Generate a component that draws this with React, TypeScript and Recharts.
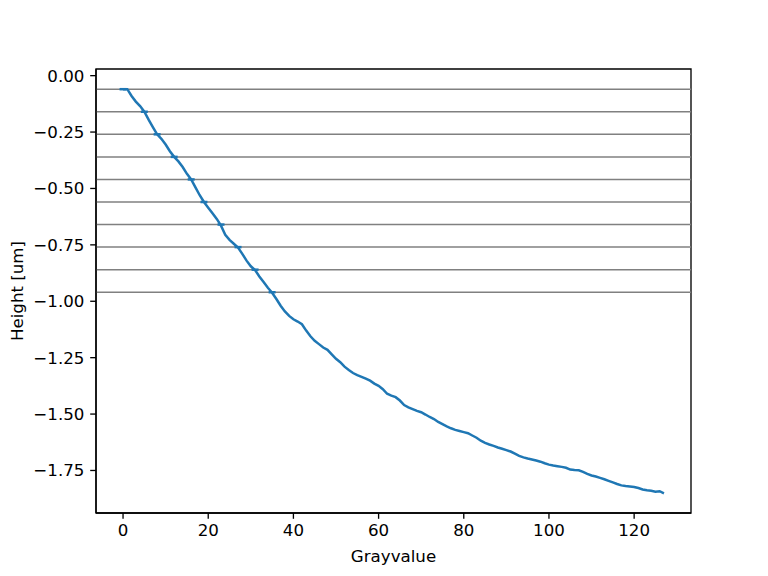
import React from 'react';
import {
  ComposedChart,
  Line,
  Scatter,
  XAxis,
  YAxis,
  ReferenceLine,
  ReferenceArea,
} from 'recharts';

// grayvalue samples 0..127
const GRAYVALUES = Array.from({ length: 128 }, (_, i) => i);

// height, one value per grayvalue
const HEIGHTS = [
  -0.06, -0.06, -0.09, -0.115, -0.135, -0.16, -0.195, -0.228, -0.26, -0.28,
  -0.305, -0.335, -0.36, -0.38, -0.405, -0.435, -0.46, -0.495, -0.53, -0.56,
  -0.585, -0.61, -0.635, -0.665, -0.705, -0.728, -0.745, -0.762, -0.79, -0.82,
  -0.845, -0.862, -0.89, -0.915, -0.94, -0.962, -0.99, -1.02, -1.045, -1.065,
  -1.08, -1.09, -1.102, -1.13, -1.155, -1.175, -1.19, -1.205, -1.215, -1.235,
  -1.255, -1.27, -1.29, -1.305, -1.318, -1.327, -1.335, -1.343, -1.352, -1.365,
  -1.375, -1.39, -1.41, -1.418, -1.425, -1.44, -1.46, -1.47, -1.478, -1.486,
  -1.492, -1.502, -1.513, -1.522, -1.535, -1.545, -1.555, -1.563, -1.57, -1.575,
  -1.58, -1.585, -1.595, -1.605, -1.618, -1.628, -1.635, -1.641, -1.648, -1.654,
  -1.66, -1.666, -1.675, -1.685, -1.692, -1.697, -1.701, -1.706, -1.711, -1.718,
  -1.724, -1.728, -1.731, -1.734, -1.738, -1.746, -1.748, -1.749, -1.756, -1.765,
  -1.772, -1.777, -1.783, -1.789, -1.796, -1.803, -1.81, -1.816, -1.819, -1.821,
  -1.823, -1.828, -1.834, -1.838, -1.84, -1.844, -1.842, -1.851,
];

// horizontal level lines
const LEVELS = [-0.06, -0.16, -0.26, -0.36, -0.46, -0.56, -0.66, -0.76, -0.86, -0.96];

// grayvalues where the curve reaches each level (small "_" markers)
const LEVEL_GRAYVALUES = [0, 5, 8, 12, 16, 19, 23, 27, 31, 35];

const X_TICKS = [0, 20, 40, 60, 80, 100, 120];
const Y_TICKS = [0, -0.25, -0.5, -0.75, -1, -1.25, -1.5, -1.75];

const X_DOMAIN: [number, number] = [-6.35, 133.35];
const Y_DOMAIN: [number, number] = [-1.9385, 0.0295];

const FONT = '"DejaVu Sans", Verdana, sans-serif';
const FS = 16.67;
const BLUE = '#1f77b4';

const data = GRAYVALUES.map((x, i) => ({ x, y: HEIGHTS[i] }));
const markers = LEVEL_GRAYVALUES.map((x, i) => ({ x, y: LEVELS[i] }));

const fmtY = (v: number) => v.toFixed(2).replace('-', '\u2212');

const DashMarker = (props: any) => {
  const { cx, cy } = props;
  if (cx == null || cy == null) return null;
  return <line x1={cx - 3.5} x2={cx + 3.5} y1={cy} y2={cy} stroke={BLUE} strokeWidth={2.5} />;
};

export default function App() {
  return (
    <div style={{ position: 'absolute', left: 0, top: 0, width: 768, height: 576, background: '#fff' }}>
      <ComposedChart
        width={768}
        height={576}
        data={data}
        margin={{ top: 69, right: 77, bottom: 0, left: 0 }}
        style={{ fontFamily: FONT }}
      >
        <XAxis
          type="number"
          dataKey="x"
          domain={X_DOMAIN}
          ticks={X_TICKS}
          allowDataOverflow
          height={63}
          tickSize={5.8}
          tickMargin={5.8}
          axisLine={{ stroke: '#000', strokeWidth: 1.33 }}
          tickLine={{ stroke: '#000', strokeWidth: 1.33 }}
          tick={{ fill: '#000', fontSize: FS, fontFamily: FONT }}
          label={(p: any) => {
            const vb = p.viewBox || { x: 96, width: 595 };
            return (
              <text x={vb.x + vb.width / 2} y={562} textAnchor="middle" fill="#000" fontSize={FS} fontFamily={FONT}>
                Grayvalue
              </text>
            );
          }}
        />
        <YAxis
          type="number"
          dataKey="y"
          domain={Y_DOMAIN}
          ticks={Y_TICKS}
          allowDataOverflow
          width={96}
          tickSize={5.8}
          tickMargin={5.8}
          tickFormatter={fmtY}
          axisLine={{ stroke: '#000', strokeWidth: 1.33 }}
          tickLine={{ stroke: '#000', strokeWidth: 1.33 }}
          tick={{ fill: '#000', fontSize: FS, fontFamily: FONT }}
          label={(p: any) => {
            const vb = p.viewBox || { y: 69, height: 444 };
            const cy = vb.y + vb.height / 2;
            return (
              <text x={23} y={cy} transform={`rotate(-90 23 ${cy})`} textAnchor="middle" fill="#000" fontSize={FS} fontFamily={FONT}>
                Height [um]
              </text>
            );
          }}
        />
        {LEVELS.map((lv) => (
          <ReferenceLine key={lv} y={lv} stroke="#808080" strokeWidth={1.5} />
        ))}
        <Line
          type="linear"
          dataKey="y"
          stroke={BLUE}
          strokeWidth={2.5}
          dot={false}
          activeDot={false}
          isAnimationActive={false}
        />
        <Scatter data={markers} dataKey="y" shape={DashMarker} isAnimationActive={false} />
        <ReferenceArea
          x1={X_DOMAIN[0]}
          x2={X_DOMAIN[1]}
          y1={Y_DOMAIN[0]}
          y2={Y_DOMAIN[1]}
          fill="none"
          stroke="#000"
          strokeWidth={1.33}
          ifOverflow="visible"
        />
      </ComposedChart>
    </div>
  );
}
